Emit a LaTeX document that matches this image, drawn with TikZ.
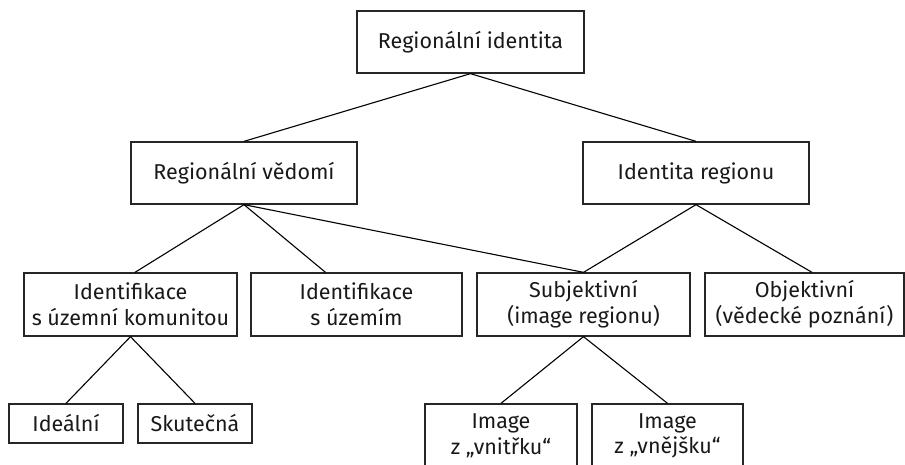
\documentclass[tikz,border=0pt]{standalone}
\usepackage{fontspec}
\setmainfont{Fira Sans}
\begin{document}
\begin{tikzpicture}[x=1pt,y=-1pt,
  box/.style={draw=black!85, line width=1.3pt, align=center, inner sep=0pt,
    font=\fontsize{21.5}{25.7}\selectfont, text=black!90},
  link/.style={draw=black, line width=1.1pt}]
\useasboundingbox (0,0) rectangle (905,464);
\clip (0,0) rectangle (905,464);

% level 1
\node[box, minimum width=227pt, minimum height=62pt] (top) at (470.5,42) {Regionální identita};
% level 2
\node[box, minimum width=226pt, minimum height=62pt] (rv) at (244,173) {Regionální vědomí};
\node[box, minimum width=226pt, minimum height=62pt] (ir) at (696,173) {Identita regionu};
% level 3
\node[box, minimum width=213pt, minimum height=63pt] (ik) at (130.5,304.5) {Identifikace\\s územní komunitou};
\node[box, minimum width=211pt, minimum height=63pt] (iu) at (356.5,304.5) {Identifikace\\s územím};
\node[box, minimum width=213pt, minimum height=63pt] (sub) at (583.5,304.5) {Subjektivní\\(image regionu)};
\node[box, minimum width=199pt, minimum height=63pt] (obj) at (804.5,304.5) {Objektivní\\(vědecké poznání)};
% level 4
\node[box, minimum width=114pt, minimum height=39pt] (ide) at (66,423.5) {Ideální};
\node[box, minimum width=114pt, minimum height=39pt] (sku) at (195,423.5) {Skutečná};
\node[box, minimum width=152pt, minimum height=64pt] (vni) at (501,436) {Image\\z „vnitřku“};
\node[box, minimum width=151pt, minimum height=64pt] (vne) at (667.5,436) {Image\\z „vnějšku“};

% connectors
\draw[link] (top.south) -- (rv.north);
\draw[link] (top.south) -- (ir.north);
\draw[link] (rv.south) -- ([xshift=4.5pt]ik.north);
\draw[link] (rv.south) -- ([xshift=-31pt]iu.north);
\draw[link] (rv.south) -- (sub.north);
\draw[link] (ir.south) -- (sub.north);
\draw[link] (ir.south) -- ([xshift=7.5pt]obj.north);
\draw[link] (ik.south) -- (ide.north);
\draw[link] (ik.south) -- (sku.north);
\draw[link] (sub.south) -- (vni.north);
\draw[link] (sub.south) -- (vne.north);
\end{tikzpicture}
\end{document}
